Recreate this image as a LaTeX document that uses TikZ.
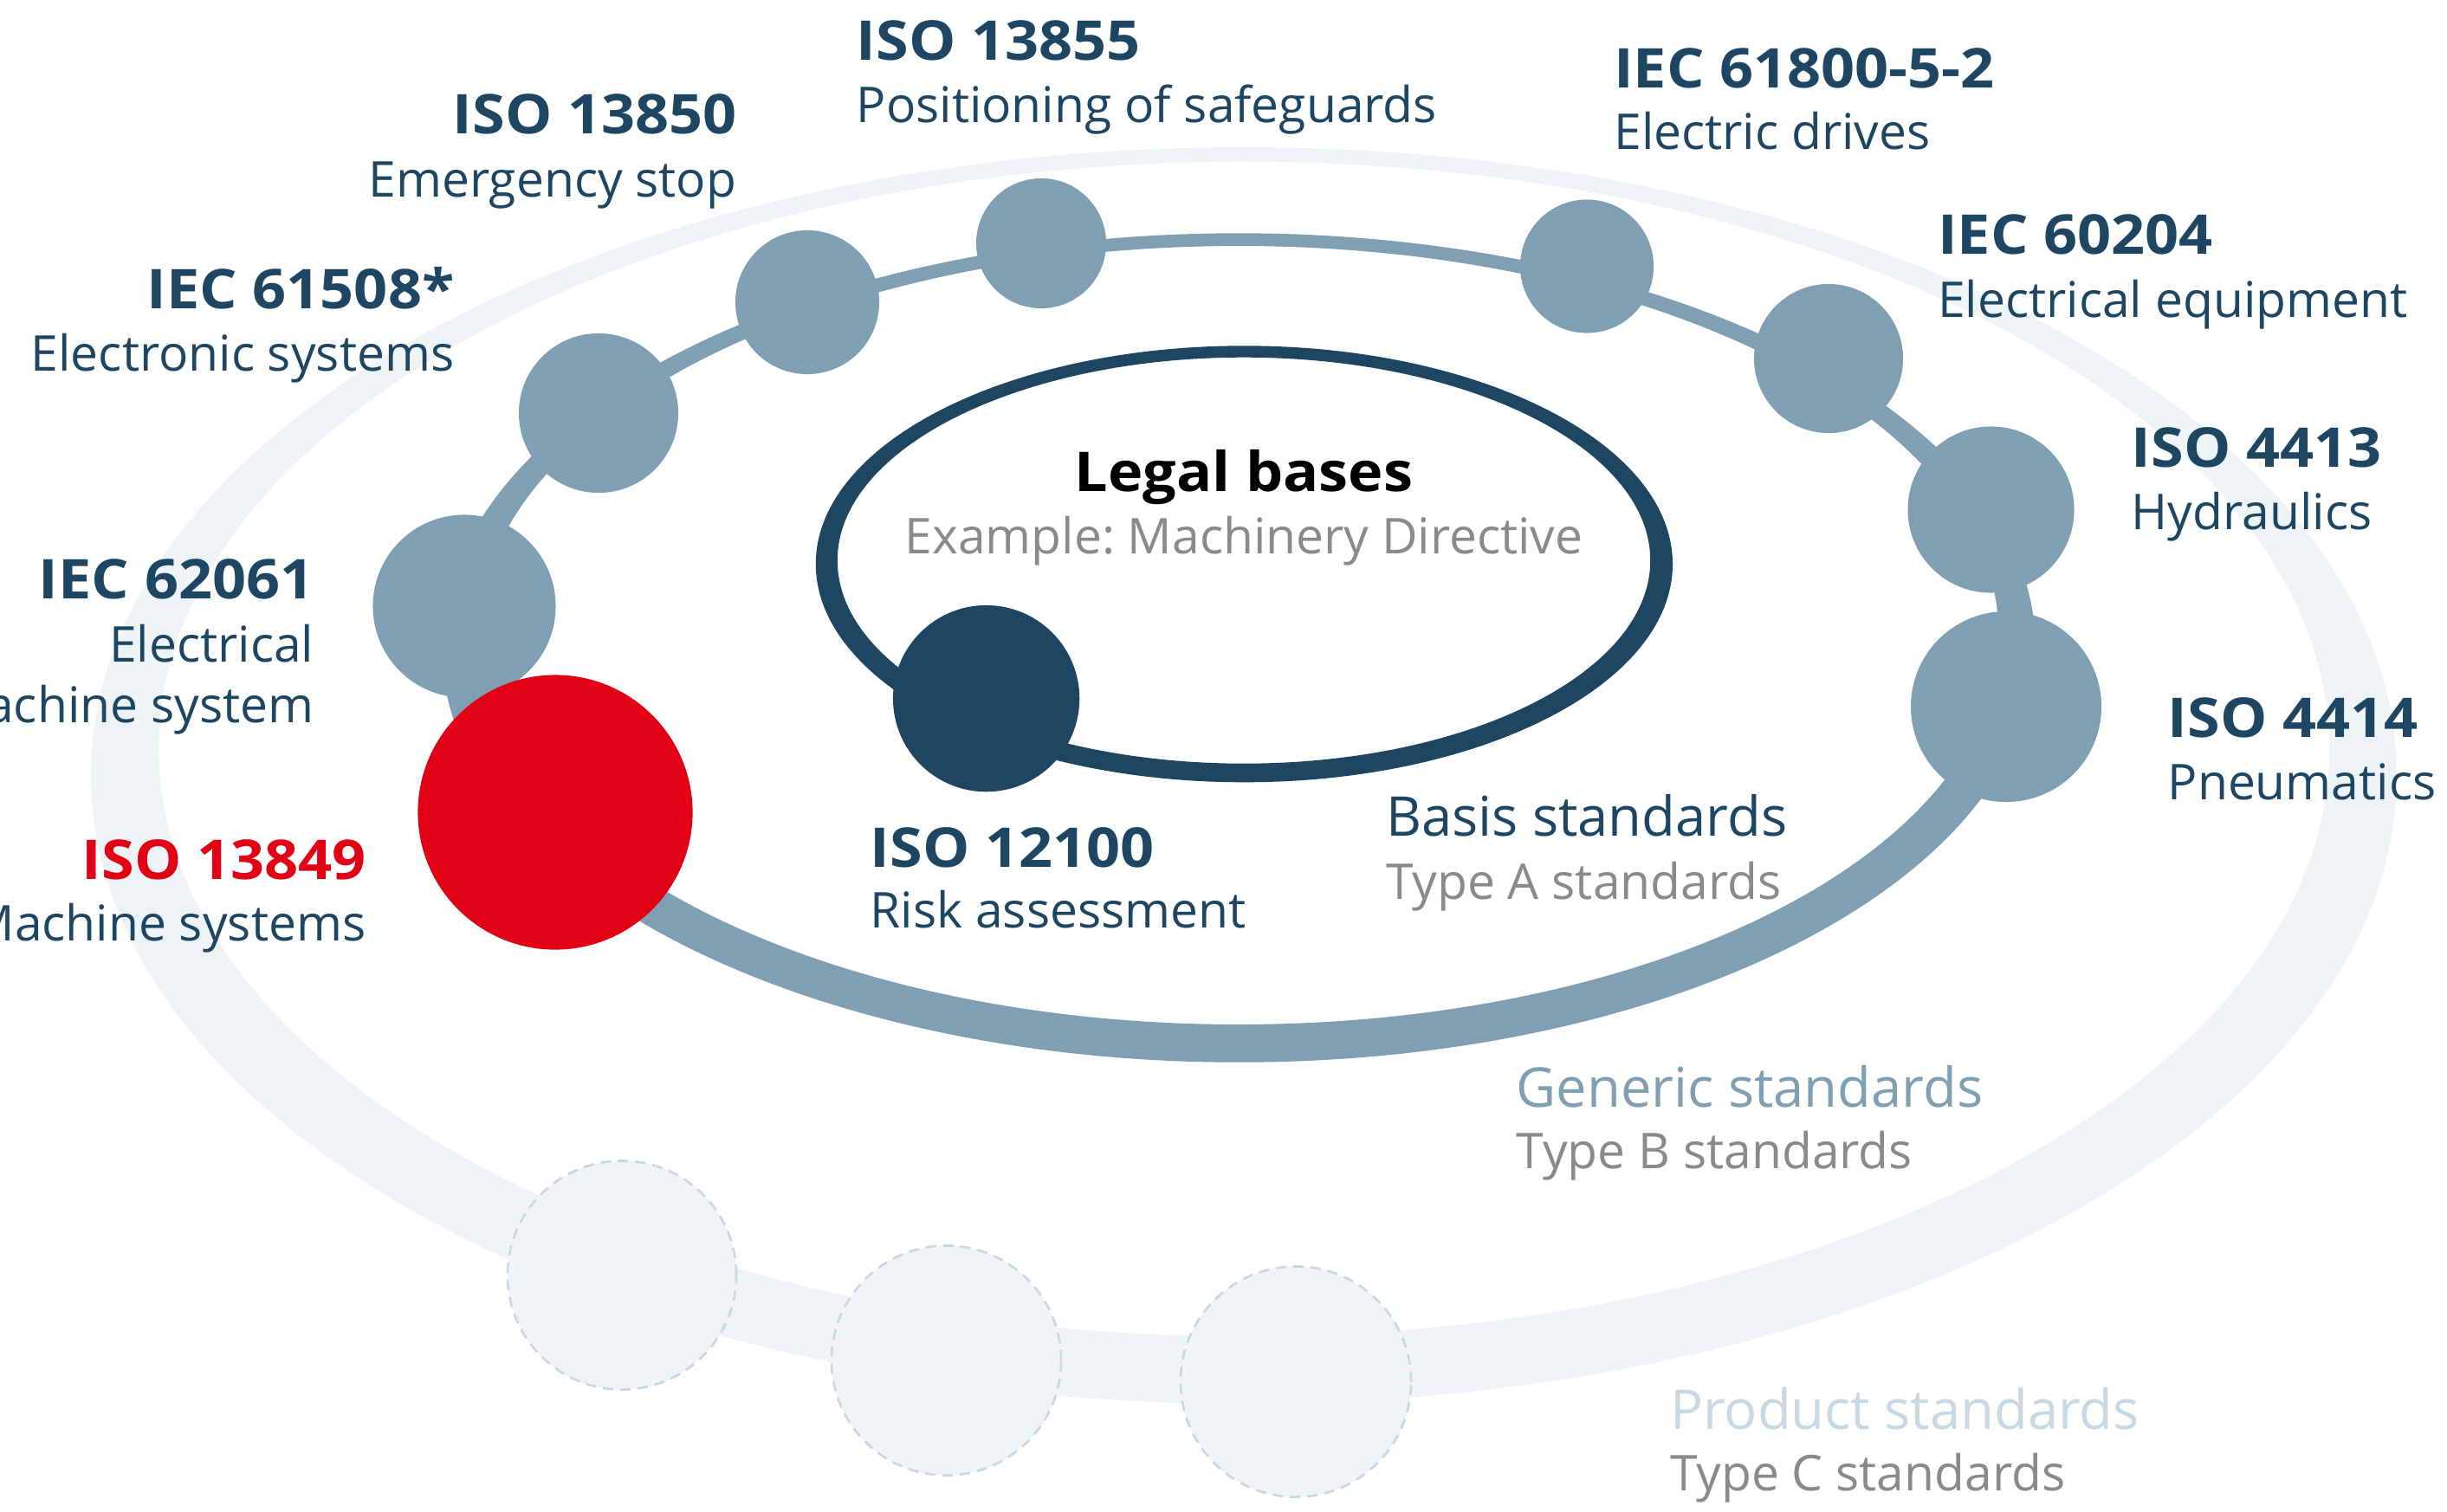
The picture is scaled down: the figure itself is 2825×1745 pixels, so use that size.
\documentclass[tikz,border=0pt]{standalone}
\usepackage{fontspec}
\setmainfont{Open Sans}[BoldFeatures={FakeStretch=1.08}]
\frenchspacing
\definecolor{dkblue}{RGB}{30,69,98}
\definecolor{midblue}{RGB}{128,159,178}
\definecolor{ringlight}{RGB}{238,243,246}
\definecolor{dashc}{RGB}{200,215,226}
\definecolor{bred}{RGB}{226,0,21}
\definecolor{txtgray}{RGB}{138,138,138}
\definecolor{prodblue}{RGB}{200,216,228}
\newcommand\szL{\fontsize{18}{21}\selectfont}
\newcommand\szS{\fontsize{16.2}{19}\selectfont}
\begin{document}
\begin{tikzpicture}[x=0.01cm,y=-0.01cm,
  dot/.style={circle, fill=midblue, draw=none, inner sep=0pt, minimum size=#1},
  reddot/.style={circle, fill=bred, draw=none, inner sep=0pt, minimum size=#1},
  darkdot/.style={circle, fill=dkblue, draw=none, inner sep=0pt, minimum size=#1},
  proddot/.style={circle, fill=ringlight, draw=dashc, line width=0.75pt, dash pattern=on 0.12cm off 0.08cm, inner sep=0pt, minimum size=#1},
  ttl/.style={font=\szL\bfseries, text=dkblue, inner sep=0pt},
  cat/.style={font=\szL, inner sep=0pt, anchor=base west},
  sub/.style={font=\szS, text=dkblue, inner sep=0pt}]
\useasboundingbox (0,0) rectangle (2825,1745);
\fill[white] (0,0) rectangle (2825,1745);
% outer product ring
\fill[ringlight, even odd rule] (1435.9,895.5) ellipse [x radius=1330.9, y radius=725.5]
  (1436.2,864.9) ellipse [x radius=1252.9, y radius=678.2];
% product standard circles
\node[proddot=2.64cm] (p1) at (718,1472.5) {};
\node[proddot=2.65cm] (p2) at (1092.5,1571) {};
\node[proddot=2.66cm] (p3) at (1496,1595.5) {};
% generic ring
\fill[midblue, even odd rule] (1430,748) ellipse [x radius=920, y radius=478.7]
  (1430,733.5) ellipse [x radius=877.6, y radius=449.5];
\node[dot=1.50cm] (c13855) at (1202,281) {};
\node[dot=1.66cm] (c13850) at (932,349) {};
\node[dot=1.84cm] (c61508) at (691,477) {};
\node[dot=2.11cm] (c62061) at (536,700) {};
\node[dot=1.54cm] (c61800) at (1832,307.5) {};
\node[dot=1.72cm] (c60204) at (2111,414) {};
\node[dot=1.92cm] (c4413) at (2298.5,588.5) {};
\node[dot=2.20cm] (c4414) at (2316,816) {};
\node[reddot=3.17cm] (c13849) at (641,938) {};
% basis ellipse
\fill[dkblue, even odd rule] (1436.4,651.3) ellipse [x radius=494.6, y radius=252]
  (1436,647.2) ellipse [x radius=469.2, y radius=234.5];
\node[darkdot=2.152cm] (c12100) at (1138.6,806.6) {};
% labels
\node[ttl, anchor=base east] (t13850) at (851,154.6) {ISO 13850};
\node[sub, anchor=base east] (s13850) at (851,227) {Emergency stop};
\node[ttl, anchor=base west] (t13855) at (988,69.5) {ISO 13855};
\node[sub, anchor=base west] (s13855) at (988,141.8) {Positioning of safeguards};
\node[ttl, anchor=base east] (t61508) at (525,356) {IEC 61508*};
\node[sub, anchor=base east] (s61508) at (525,428) {Electronic systems};
\node[ttl, anchor=base east] (t62061) at (363,691) {IEC 62061};
\node[sub, anchor=base east] (s62061a) at (363,764.7) {Electrical};
\node[sub, anchor=base east] (s62061b) at (363,834) {Machine system};
\node[ttl, anchor=base east, text=bred] (t13849) at (423,1015) {ISO 13849};
\node[sub, anchor=base east] (s13849) at (423,1086.4) {Machine systems};
\node[ttl, anchor=base west] (t12100) at (1004,1001.7) {ISO 12100};
\node[sub, anchor=base west] (s12100) at (1004,1071.3) {Risk assessment};
\node[ttl, anchor=base west] (t61800) at (1862.6,101.2) {IEC 61800-5-2};
\node[sub, anchor=base west] (s61800) at (1862.6,172.4) {Electric drives};
\node[ttl, anchor=base west] (t60204) at (2236.5,293.7) {IEC 60204};
\node[sub, anchor=base west] (s60204) at (2236.5,366) {Electrical equipment};
\node[ttl, anchor=base west] (t4413) at (2460,539.5) {ISO 4413};
\node[sub, anchor=base west] (s4413) at (2460,611.8) {Hydraulics};
\node[ttl, anchor=base west] (t4414) at (2502,851) {ISO 4414};
\node[sub, anchor=base west] (s4414) at (2502,923.2) {Pneumatics};
\node[ttl, anchor=base, text=black] (tlegal) at (1436,567.3) {Legal bases};
\node[sub, anchor=base, text=txtgray] (slegal) at (1436,639.6) {Example: Machinery Directive};
\node[cat, text=dkblue] (tbasis) at (1599.4,965.5) {Basis standards};
\node[sub, anchor=base west, text=txtgray] (sbasis) at (1599.4,1038) {Type A standards};
\node[cat, text=midblue] (tgen) at (1750,1278.5) {Generic standards};
\node[sub, anchor=base west, text=txtgray] (sgen) at (1750,1349.7) {Type B standards};
\node[cat, text=prodblue] (tprod) at (1927.5,1650.4) {Product standards};
\node[sub, anchor=base west, text=txtgray] (sprod) at (1927.5,1721) {Type C standards};
\end{tikzpicture}
\end{document}
